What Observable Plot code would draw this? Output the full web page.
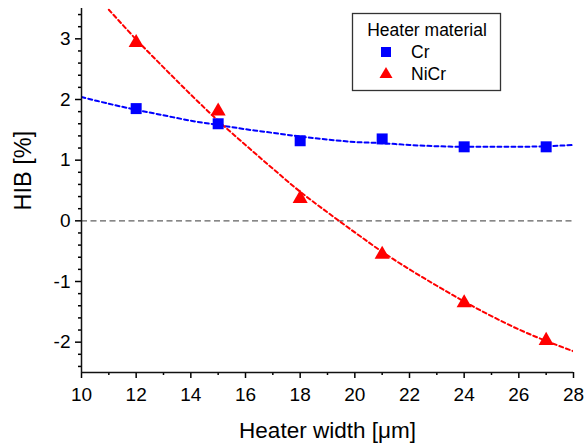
<!DOCTYPE html>
<html><head><meta charset="utf-8">
<script src="https://cdn.jsdelivr.net/npm/d3@7"></script>
<script src="https://cdn.jsdelivr.net/npm/@observablehq/plot@0.6"></script>
<style>
body{margin:0;background:#fff;}
#wrap{position:relative;width:585px;height:443px;font-family:"Liberation Sans",Arial,sans-serif;}
#wrap svg{display:block;}
#legend{position:absolute;left:0;top:0;pointer-events:none;}
</style></head><body><div id="wrap"></div>
<script>
// Measured data (heater width in µm, HIB in %)
const widths = [12, 15, 18, 21, 24, 27];
const crValues = [1.85, 1.60, 1.32, 1.35, 1.22, 1.22];
const nicrValues = [2.97, 1.84, 0.40, -0.52, -1.32, -1.94];

// Fitted curves
const crFitX = [10, 11, 12, 13, 14, 15, 16, 17, 18, 19, 20, 21, 22, 23, 24, 25, 26, 27, 28];
const crFitY = [2.04, 1.93, 1.83, 1.74, 1.65, 1.58, 1.51, 1.45, 1.39, 1.34, 1.30, 1.28, 1.25, 1.23, 1.22, 1.22, 1.22, 1.23, 1.25];
const nicrFitX = [11, 12, 13, 14, 15, 16, 17, 18, 19, 20, 21, 22, 23, 24, 25, 26, 27, 28];
const nicrFitY = [3.48, 2.99, 2.53, 2.08, 1.65, 1.25, 0.86, 0.48, 0.14, -0.19, -0.51, -0.80, -1.07, -1.33, -1.57, -1.79, -1.98, -2.15];

// Tick values
const xMajor = [10, 12, 14, 16, 18, 20, 22, 24, 26, 28];
const xMinor = [11, 13, 15, 17, 19, 21, 23, 25, 27];
const yMajor = [-2, -1, 0, 1, 2, 3];
const yMinor = [-2.4, -2.2, -1.8, -1.6, -1.4, -1.2, -0.8, -0.6, -0.4, -0.2, 0.2, 0.4, 0.6, 0.8, 1.2, 1.4, 1.6, 1.8, 2.2, 2.4, 2.6, 2.8, 3.2, 3.4];

const seriesNames = ["Cr", "NiCr"];
const legendTitle = "Heater material";
const xLabel = "Heater width [μm]";
const yLabel = "HIB [%]";

const crData = widths.map((w, i) => ({x: w, y: crValues[i]}));
const nicrData = widths.map((w, i) => ({x: w, y: nicrValues[i]}));
const crFit = crFitX.map((x, i) => ({x, y: crFitY[i]}));
const nicrFit = nicrFitX.map((x, i) => ({x, y: nicrFitY[i]}));

const fmt = d => (d < 0 ? "-" + Math.abs(d) : String(d));
const font = '"Liberation Sans", Arial, sans-serif';

const chart = Plot.plot({
  width: 585, height: 443,
  marginLeft: 81, marginRight: 12, marginTop: 8, marginBottom: 71,
  x: {domain: [10, 28]},
  y: {domain: [-2.5, 3.5]},
  style: {fontFamily: font, color: "#000", background: "#fff"},
  marks: [
    Plot.ruleY([0], {stroke: "#606060", strokeWidth: 1.3, strokeDasharray: "6,3.5"}),
    Plot.line(crFit, {x: "x", y: "y", stroke: "#0000ff", strokeWidth: 2, strokeDasharray: "4,3", curve: "catmull-rom", clip: true}),
    Plot.line(nicrFit, {x: "x", y: "y", stroke: "#ff0000", strokeWidth: 2, strokeDasharray: "4,3", curve: "catmull-rom", clip: true}),
    Plot.dot(crData, {x: "x", y: "y", symbol: "square", fill: "#0000ff", r: 6.2}),
    Plot.dot(nicrData, {x: "x", y: "y", symbol: "triangle", fill: "#ff0000", r: 5.6, dy: 2}),
    Plot.axisX({ticks: xMinor, tickSize: 3, text: null, label: null, strokeWidth: 1.5}),
    Plot.axisX({ticks: xMajor, tickSize: 6, tickPadding: 9, fontSize: 19, tickFormat: fmt, label: null, strokeWidth: 1.5}),
    Plot.axisY({ticks: yMinor, tickSize: 3, text: null, label: null, strokeWidth: 1.5}),
    Plot.axisY({ticks: yMajor, tickSize: 6, tickPadding: 5, fontSize: 19, tickFormat: fmt, label: null, strokeWidth: 1.5}),
    Plot.ruleX([10], {stroke: "#111", strokeWidth: 1.5}),
    Plot.ruleY([-2.5], {stroke: "#111", strokeWidth: 1.5}),
    Plot.text([yLabel], {text: d => d, frameAnchor: "left", dx: -58, dy: 20, rotate: -90, fontSize: 23.5}),
    Plot.text([xLabel], {text: d => d, frameAnchor: "bottom", dy: 65, lineAnchor: "bottom", fontSize: 22.5})
  ]
});

const wrap = document.getElementById("wrap");
wrap.appendChild(chart);

// Legend overlay
const lg = d3.select(wrap).append("svg").attr("id", "legend").attr("width", 585).attr("height", 443)
  .style("font-family", font);
lg.append("rect").attr("x", 352.5).attr("y", 13.5).attr("width", 148).attr("height", 77)
  .attr("fill", "#fff").attr("stroke", "#333").attr("stroke-width", 1.3);
lg.append("text").attr("x", 427).attr("y", 36).attr("text-anchor", "middle").attr("font-size", 17.5).text(legendTitle);
lg.append("rect").attr("x", 381).attr("y", 47).attr("width", 10).attr("height", 10).attr("fill", "#0000ff");
lg.append("text").attr("x", 411).attr("y", 58).attr("font-size", 17.5).text(seriesNames[0]);
lg.append("path").attr("d", "M386,67L392.5,78L379.5,78Z").attr("fill", "#ff0000");
lg.append("text").attr("x", 411).attr("y", 80).attr("font-size", 17.5).text(seriesNames[1]);
</script></body></html>
